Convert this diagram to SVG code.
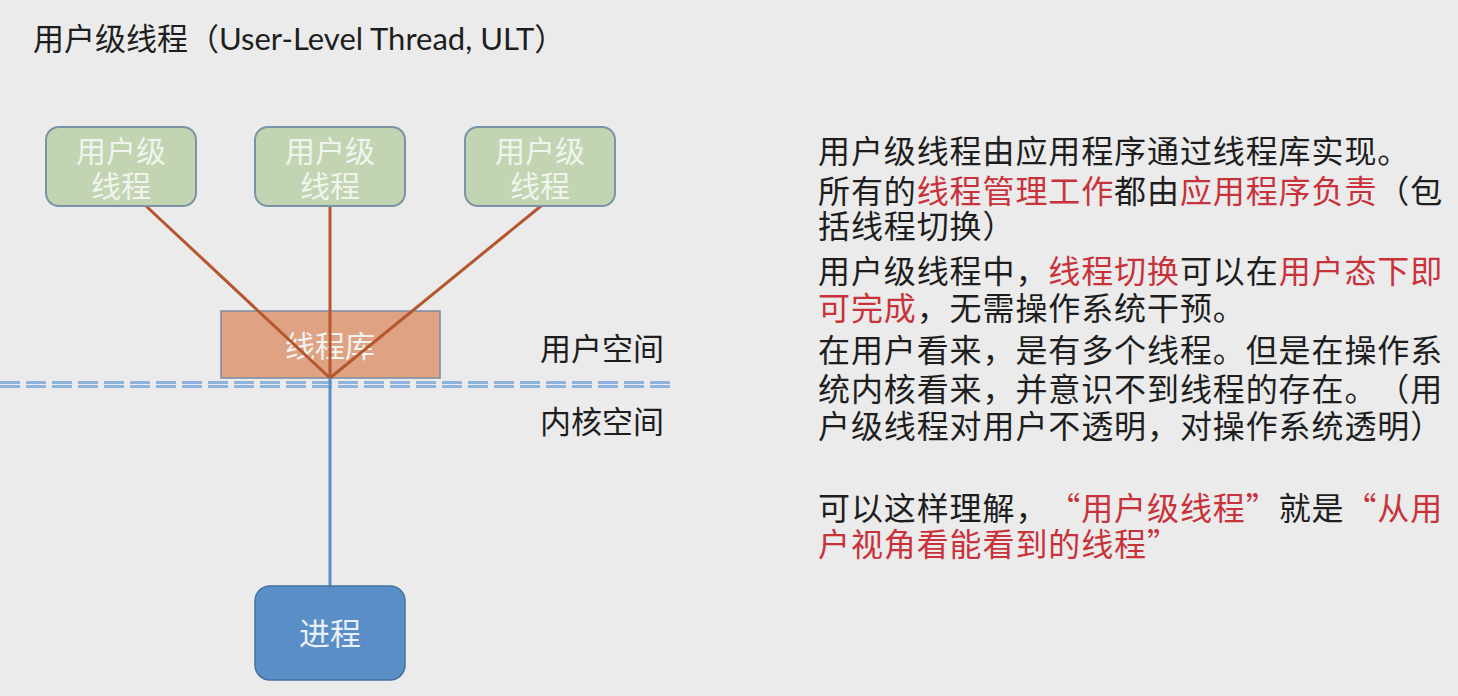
<svg xmlns="http://www.w3.org/2000/svg" width="1458" height="696" viewBox="0 0 1458 696">
<style>
text{text-spacing-trim:space-all;font-feature-settings:"chws" 0,"halt" 0,"palt" 0;}
.cjk{font-family:"Noto Sans CJK SC","Noto Sans",sans-serif;}
.title{font-family:Lato,"Noto Sans CJK SC",sans-serif;font-size:31px;fill:#1e1e1e;}
.ult rect{fill:#c2d4b1;stroke:#7b93a6;stroke-width:2;}
.ult text,.lib text{font-size:30px;fill:#f1f4ee;text-anchor:middle;}
.lbl{font-size:31px;fill:#1e1e1e;}
.body{font-size:32px;fill:#1e1e1e;letter-spacing:0.9px;}
.r{fill:#c8333b;}
.conn line{stroke-width:3;}
.brown{stroke:#b5562f;}
.dash{stroke:#8fb4dc;stroke-width:2.2;stroke-dasharray:20 6;}
</style>
<rect x="0" y="0" width="1458" height="696" fill="#ebebeb"/>
<text class="title" x="33" y="50">用户级线程（<tspan>User-Level Thread, ULT</tspan>）</text>

<g id="lib" class="lib">
<rect x="221" y="311" width="219" height="67" fill="#dfa283" stroke="#7b8ba1" stroke-width="1.5"/>
<text class="cjk" x="330" y="357">线程库</text>
</g>

<g id="connectors" class="conn">
<line class="dash" x1="0" y1="382.5" x2="670" y2="382.5"/>
<line class="dash" x1="0" y1="386.5" x2="670" y2="386.5"/>
<line class="brown" x1="146" y1="206" x2="330" y2="378"/>
<line class="brown" x1="330" y1="206" x2="330" y2="378"/>
<line class="brown" x1="541" y1="206" x2="330" y2="378"/>
<line x1="330" y1="378" x2="330" y2="587" stroke="#5b8ec8"/>
</g>

<g id="ult1" class="ult">
<rect x="46" y="127" width="150" height="79" rx="13"/>
<text class="cjk" x="121" y="162">用户级</text>
<text class="cjk" x="121" y="197">线程</text>
</g>
<g id="ult2" class="ult">
<rect x="255" y="127" width="150" height="79" rx="13"/>
<text class="cjk" x="330" y="162">用户级</text>
<text class="cjk" x="330" y="197">线程</text>
</g>
<g id="ult3" class="ult">
<rect x="465" y="127" width="150" height="79" rx="13"/>
<text class="cjk" x="540" y="162">用户级</text>
<text class="cjk" x="540" y="197">线程</text>
</g>

<g id="process">
<rect x="255" y="586" width="150" height="94" rx="15" fill="#5a8ec6" stroke="#45739f" stroke-width="1.5"/>
<text class="cjk" x="330" y="645" font-size="31" fill="#eaf0f7" text-anchor="middle">进程</text>
</g>

<g id="space-labels">
<text class="cjk lbl" x="540" y="360">用户空间</text>
<text class="cjk lbl" x="540" y="433">内核空间</text>
</g>

<g id="description" class="cjk body">
<text x="818" y="163">用户级线程由应用程序通过线程库实现。</text>
<text x="818" y="203">所有的<tspan class="r">线程管理工作</tspan>都由<tspan class="r">应用程序负责</tspan>（包</text>
<text x="818" y="238">括线程切换）</text>
<text x="818" y="283">用户级线程中，<tspan class="r">线程切换</tspan>可以在<tspan class="r">用户态下即</tspan></text>
<text x="818" y="320"><tspan class="r">可完成</tspan>，无需操作系统干预。</text>
<text x="818" y="362">在用户看来，是有多个线程。但是在操作系</text>
<text x="818" y="401">统内核看来，并意识不到线程的存在。（用</text>
<text x="818" y="438">户级线程对用户不透明，对操作系统透明）</text>
<text x="818" y="520">可以这样理解，<tspan class="r">“用户级线程”</tspan>就是<tspan class="r">“从用</tspan></text>
<text x="818" y="556"><tspan class="r">户视角看能看到的线程”</tspan></text>
</g>
</svg>
